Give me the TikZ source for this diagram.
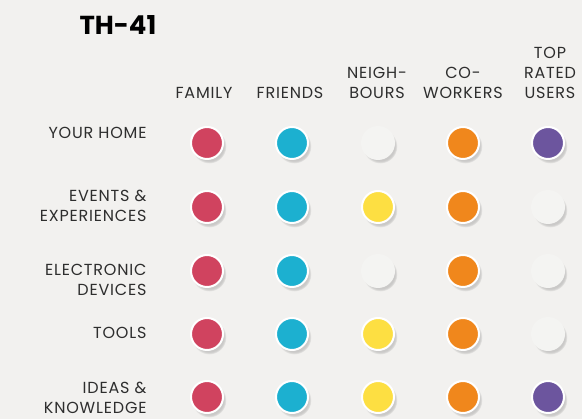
\documentclass[tikz,border=0pt]{standalone}
\usepackage{fontspec}
\setmainfont{Poppins}
\usetikzlibrary{shadows}

\definecolor{paper}{HTML}{F2F1EF}
\definecolor{labelgray}{HTML}{2E2E2E}
\definecolor{famred}{HTML}{D0435F}
\definecolor{friendcyan}{HTML}{1CB0D0}
\definecolor{neighyellow}{HTML}{FDDF42}
\definecolor{coorange}{HTML}{F0871C}
\definecolor{toppurple}{HTML}{6C559E}
\definecolor{nonegray}{HTML}{F4F4F2}

\newcommand{\labelfont}{\fontsize{16}{20}\selectfont\addfontfeatures{LetterSpace=5}}

\tikzset{
  dot/.style={circle, minimum size=32pt, inner sep=0pt, draw=white, line width=2pt,
    circular drop shadow={shadow xshift=2pt, shadow yshift=-3pt, shadow scale=1.08, opacity=.35}},
  nodot/.style={dot, draw=nonegray, fill=nonegray},
  rowlabel/.style={anchor=east, align=right, text=labelgray, font=\labelfont},
  colhead/.style={anchor=south, align=center, text=labelgray, font=\labelfont}
}

\begin{document}
\begin{tikzpicture}[x=1pt, y=-1pt]

\fill[paper] (0,0) rectangle (582,419);
\useasboundingbox (0,0) rectangle (582,419);

\node[anchor=west, font=\bfseries\fontsize{26}{26}\selectfont] (title) at (76,25) {TH-41};

% column heads
\node[colhead] (family) at (204,102) {FAMILY};
\node[colhead] (friends) at (290,102) {FRIENDS};
\node[colhead] (neigh) at (377,102) {NEIGH-\\BOURS};
\node[colhead] (cowork) at (463,102) {CO-\\WORKERS};
\node[colhead] (toprated) at (550,102) {TOP\\RATED\\USERS};

% row labels
\node[rowlabel] (home) at (150,133) {YOUR HOME};
\node[rowlabel] (events) at (150,206) {EVENTS \&\\EXPERIENCES};
\node[rowlabel] (devices) at (150,280) {ELECTRONIC\\DEVICES};
\node[rowlabel] (tools) at (150,333) {TOOLS};
\node[rowlabel] (ideas) at (150,398) {IDEAS \&\\KNOWLEDGE};

% your home
\node[dot, fill=famred] (home-fam) at (207,143) {};
\node[dot, fill=friendcyan] (home-fri) at (292,143) {};
\node[nodot] (home-nei) at (378,143) {};
\node[dot, fill=coorange] (home-cow) at (463,143) {};
\node[dot, fill=toppurple] (home-top) at (548,143) {};

% events & experiences
\node[dot, fill=famred] (events-fam) at (207,207) {};
\node[dot, fill=friendcyan] (events-fri) at (292,207) {};
\node[dot, fill=neighyellow] (events-nei) at (378,207) {};
\node[dot, fill=coorange] (events-cow) at (463,207) {};
\node[nodot] (events-top) at (548,207) {};

% electronic devices
\node[dot, fill=famred] (devices-fam) at (207,271) {};
\node[dot, fill=friendcyan] (devices-fri) at (292,271) {};
\node[nodot] (devices-nei) at (378,271) {};
\node[dot, fill=coorange] (devices-cow) at (463,271) {};
\node[nodot] (devices-top) at (548,271) {};

% tools
\node[dot, fill=famred] (tools-fam) at (207,334) {};
\node[dot, fill=friendcyan] (tools-fri) at (292,334) {};
\node[dot, fill=neighyellow] (tools-nei) at (378,334) {};
\node[dot, fill=coorange] (tools-cow) at (463,334) {};
\node[nodot] (tools-top) at (548,334) {};

% ideas & knowledge
\node[dot, fill=famred] (ideas-fam) at (207,397) {};
\node[dot, fill=friendcyan] (ideas-fri) at (292,397) {};
\node[dot, fill=neighyellow] (ideas-nei) at (378,397) {};
\node[dot, fill=coorange] (ideas-cow) at (463,397) {};
\node[dot, fill=toppurple] (ideas-top) at (548,397) {};

\end{tikzpicture}
\end{document}
